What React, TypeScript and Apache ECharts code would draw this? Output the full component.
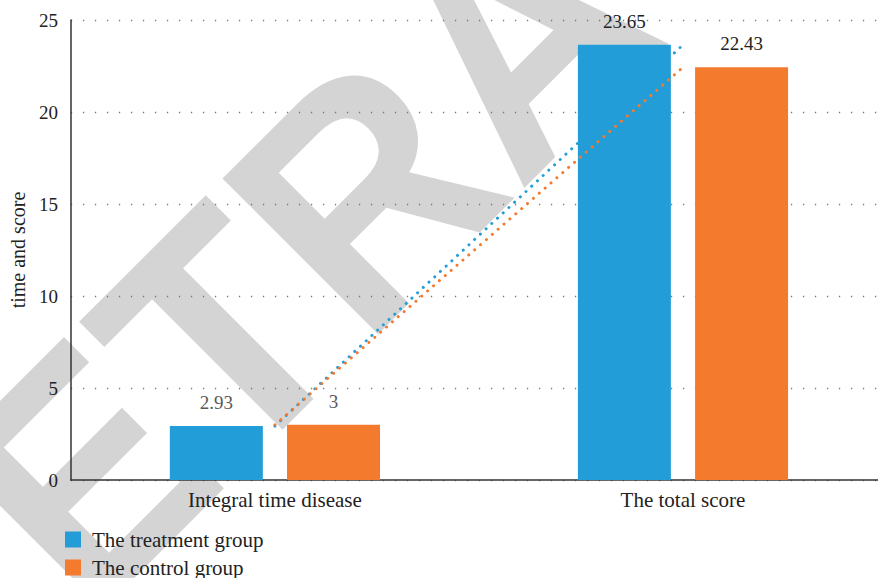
import React, { useEffect, useRef } from "react";
import * as echarts from "echarts";

const categories = ["Integral time disease", "The total score"];
const treatment = [2.93, 23.65];
const control = [3, 22.43];
const seriesNames = ["The treatment group", "The control group"];
const yTicks = { min: 0, max: 25, interval: 5 };
const labelColors = ["#595959", "#222222"];
const watermarkText = "RETRACTED";

const BLUE = "#239DD8";
const ORANGE = "#F47B2E";
const FONT = "Liberation Serif";

export default function App() {
  const ref = useRef<HTMLDivElement>(null);
  useEffect(() => {
    document.body.style.margin = "0";
    document.body.style.overflow = "hidden";
    if (!ref.current) return;
    const chart = echarts.init(ref.current, null, { renderer: "svg" });
    const mkData = (vals: number[]) =>
      vals.map((v, i) => ({
        value: v,
        label: { color: labelColors[i] },
      }));
    const legendBase = {
      orient: "vertical",
      left: 65,
      padding: 0,
      itemWidth: 16,
      itemHeight: 16,
      icon: "rect",
      textStyle: {
        fontFamily: FONT,
        fontSize: 21,
        color: "#222",
        padding: [0, 0, 0, 6],
      },
    };
    chart.setOption({
      animation: false,
      textStyle: { fontFamily: FONT },
      grid: { left: 65, top: 20, width: 822, height: 460 },
      graphic: [
        {
          type: "text",
          z: -10,
          x: 518,
          y: 37,
          rotation: Math.PI / 4,
          scaleX: 0.95,
          silent: true,
          style: {
            text: watermarkText,
            fill: "#D4D4D4",
            font: "bold 320px 'Liberation Sans'",
            align: "center",
            verticalAlign: "middle",
          },
        },
      ],
      legend: [
        { ...legendBase, data: [seriesNames[0]], top: 529 },
        { ...legendBase, data: [seriesNames[1]], top: 557 },
      ],
      xAxis: {
        type: "category",
        data: categories,
        axisTick: { show: false },
        axisLine: { lineStyle: { color: "#333", width: 1.5 } },
        axisLabel: { fontFamily: FONT, fontSize: 21, color: "#222", margin: 9 },
      },
      yAxis: {
        type: "value",
        min: yTicks.min,
        max: yTicks.max,
        interval: yTicks.interval,
        name: "time and score",
        nameLocation: "middle",
        nameGap: 40,
        nameTextStyle: { fontFamily: FONT, fontSize: 20, color: "#222" },
        axisLine: { show: true, lineStyle: { color: "#333", width: 1.5 } },
        axisTick: { show: false },
        axisLabel: { fontFamily: FONT, fontSize: 19, color: "#222", margin: 13 },
        splitLine: {
          lineStyle: { color: "#777", width: 1.3, type: [1.3, 10.7] },
        },
      },
      series: [
        {
          name: seriesNames[0],
          type: "bar",
          data: mkData(treatment),
          barWidth: 93,
          barGap: "26%",
          itemStyle: { color: BLUE },
          label: { show: true, position: "top", distance: 14, fontFamily: FONT, fontSize: 19 },
        },
        {
          name: seriesNames[1],
          type: "bar",
          data: mkData(control),
          barWidth: 93,
          itemStyle: { color: ORANGE },
          label: { show: true, position: "top", distance: 14, fontFamily: FONT, fontSize: 19 },
        },
        {
          name: "trend-treatment",
          type: "line",
          data: treatment,
          symbol: "none",
          silent: true,
          z: 5,
          lineStyle: { color: BLUE, width: 3, type: [0.01, 7.8], cap: "round" },
        },
        {
          name: "trend-control",
          type: "line",
          data: control,
          symbol: "none",
          silent: true,
          z: 5,
          lineStyle: { color: ORANGE, width: 3, type: [0.01, 7.8], cap: "round" },
        },
      ],
    });
    return () => chart.dispose();
  }, []);
  return (
    <div style={{ width: 878, height: 578, overflow: "hidden", position: "relative" }}>
      <div ref={ref} style={{ width: 900, height: 578 }} />
    </div>
  );
}
